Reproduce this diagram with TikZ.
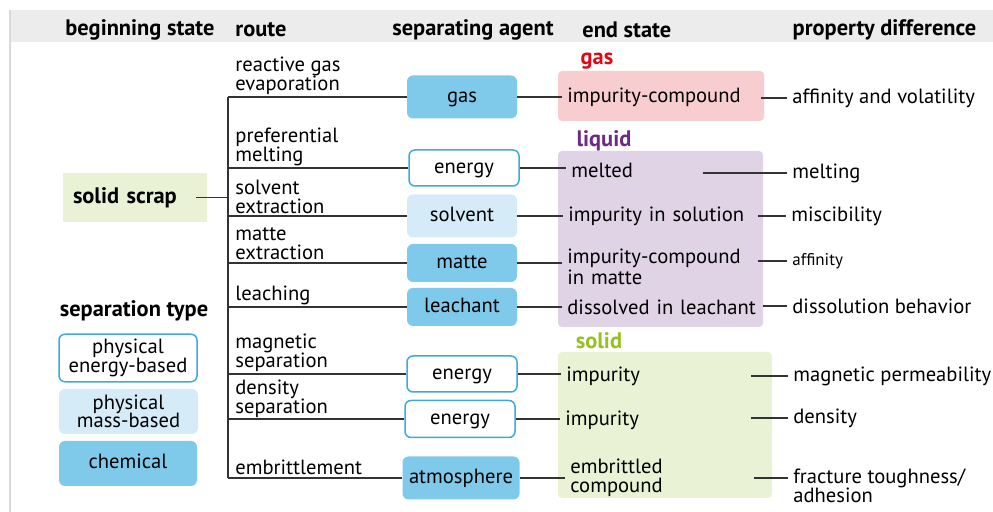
\documentclass[tikz,border=0pt]{standalone}
\usepackage{fontspec}
\setmainfont{PT Sans}
\usepackage{xcolor}
\usepackage{tikz}
\definecolor{chem}{HTML}{7FCAEA}
\definecolor{mass}{HTML}{D5ECF8}
\definecolor{phys}{HTML}{3CA9E0}
\definecolor{gasbg}{HTML}{F8CDD0}
\definecolor{liqbg}{HTML}{E0D3E6}
\definecolor{solbg}{HTML}{E9F2D4}
\definecolor{gasfg}{HTML}{E30613}
\definecolor{liqfg}{HTML}{6B2A87}
\definecolor{solfg}{HTML}{95C11F}
\definecolor{wire}{HTML}{333333}
% tight two-line labels
\lineskiplimit=-10pt

\begin{document}
\begin{tikzpicture}[x=0.5pt,y=-0.5pt,font=\fontsize{10.3}{9.3}\selectfont]
		\tikzstyle{every node}+=[inner sep=2.5pt,align=left]
		\tikzstyle{agent}=[rounded corners=3pt,minimum width=55pt,align=center,text height=0.72em,text depth=0.2em]
		\tikzstyle{chemical}=[agent,fill=chem]
		\tikzstyle{massbased}=[agent,fill=mass]
		\tikzstyle{energybased}=[agent,draw=phys,line width=0.75pt,fill=white]
		\tikzstyle{head}=[font=\fontsize{11.2}{11}\selectfont\bfseries]
		\tikzstyle{wire}=[draw=wire,line width=0.75pt]
		\useasboundingbox (0,0) rectangle (993,512);
		\fill[gray!15] (10,10) rectangle (993,42);
		\draw[gray!30,line width=0.8pt] (10,10) -- (10,512);
		% column heads
		\node[head] (h1) at (140,30) {beginning state};
		\node[head,anchor=west] (h2) at (230,30) {route};
		\node[head] (h3) at (473,30) {separating agent};
		\node[head,anchor=west] (h4) at (577,30) {end state};
		\node[head] (h5) at (884.5,30) {property difference};
		% end state groups
		\fill[gasbg,rounded corners=2pt] (558,71) rectangle (764,121);
		\fill[liqbg,rounded corners=2pt] (558,151) rectangle (763,327);
		\fill[solbg,rounded corners=2pt] (558,352) rectangle (772,498);
		\node[head,text=gasfg] (gl) at (597,61) {gas};
		\node[head,text=liqfg] (ll) at (604,141) {liquid};
		\node[head,text=solfg] (sl) at (599,341) {solid};
		% beginning state
		\node[head,fill=solbg,text width=62pt,inner xsep=5pt,minimum height=24.5pt] (s) at (135,197.5) {solid scrap};
		\coordinate (t1) at (228,97);
		\coordinate (t2) at (228,478);
		% routes
		\node[anchor=south west] (r1) at (230,100) {reactive gas\\evaporation};
		\node[anchor=south west] (r2) at (230,171) {preferential\\melting};
		\node[anchor=south west] (r3) at (230,219) {solvent\\extraction};
		\node[anchor=south west] (r4) at (230,265) {matte\\extraction};
		\node[anchor=south west] (r5) at (230,310) {leaching};
		\node[anchor=south west] (r6) at (230,377) {magnetic\\separation};
		\node[anchor=south west] (r7) at (230,423) {density\\separation};
		\node[anchor=south west] (r8) at (230,480) {embrittlement};
		% separating agents
		\node[chemical,minimum height=21.5pt] (g1) at (462,97) {gas};
		\node[energybased,minimum height=18pt] (g2) at (464,168) {energy};
		\node[massbased,minimum height=21.5pt] (g3) at (462,216) {solvent};
		\node[chemical,minimum height=19pt] (g4) at (462,263) {matte};
		\node[chemical,minimum height=19pt] (g5) at (462,307) {leachant};
		\node[energybased,minimum height=18pt] (g6) at (462,374) {energy};
		\node[energybased,minimum height=18.5pt] (g7) at (460,419) {energy};
		\node[chemical,minimum height=21.5pt,minimum width=58.5pt] (g8) at (461,478) {atmosphere};
		% end states
		\node[anchor=west,text width=94pt] (e1) at (562,97) {impurity-compound};
		\node[anchor=west,text width=63pt] (e2) at (566,170) {melted};
		\node[anchor=west,text width=92pt] (e3) at (563,216) {impurity in solution};
		\node[anchor=west,text width=92.5pt] (e4) at (562,267) {impurity-compound\\in matte};
		\node[anchor=west,text width=95pt] (e5) at (562,307) {dissolved in leachant};
		\node[anchor=west,text width=89.5pt] (e6) at (561,376) {impurity};
		\node[anchor=west,text width=90pt] (e7) at (560,420) {impurity};
		\node[anchor=west,text width=89pt] (e8) at (565,478) {embrittled\\compound};
		% property differences
		\node[anchor=west] (p1) at (787,98) {affinity and volatility};
		\node[anchor=west] (p2) at (787,173) {melting};
		\node[anchor=west] (p3) at (786,216) {miscibility};
		\node[anchor=west,font=\fontsize{8.5}{8.5}\selectfont] (p4) at (787,261) {affinity};
		\node[anchor=west] (p5) at (787,306) {dissolution behavior};
		\node[anchor=west] (p6) at (788,376) {magnetic permeability};
		\node[anchor=west] (p7) at (788,418) {density};
		\node[anchor=west] (p8) at (788,486) {fracture toughness/\\adhesion};
		% legend
		\node[head] (lt) at (134,311) {separation type};
		\node[energybased,minimum width=69pt,minimum height=22.5pt,text height=,text depth=] (l1) at (128,358) {physical\\energy-based};
		\node[massbased,minimum width=69.5pt,minimum height=22.5pt,text height=,text depth=] (l2) at (128.5,411.5) {physical\\mass-based};
		\node[chemical,minimum width=69pt,minimum height=22.5pt] (l3) at (128,463.5) {chemical};
		% connectors
		\draw[wire] ([xshift=-5.5pt]s.east) -- (s.east -| t1);
		\draw[wire] (t1) -- (t2);
		\foreach \i in {1,...,8}
			\draw[wire] (g\i.west) -- (g\i.west -| t1);
		\foreach \i in {1,...,8}
			\draw[wire] (g\i.east) -- (g\i.east -| e\i.west);
		\foreach \i in {1,...,7}
			\draw[wire] (p\i.west -| e\i.east) -- (p\i.west);
		\draw[wire] (e8.east) -- (e8.east -| p8.west);
		\end{tikzpicture}
\end{document}
